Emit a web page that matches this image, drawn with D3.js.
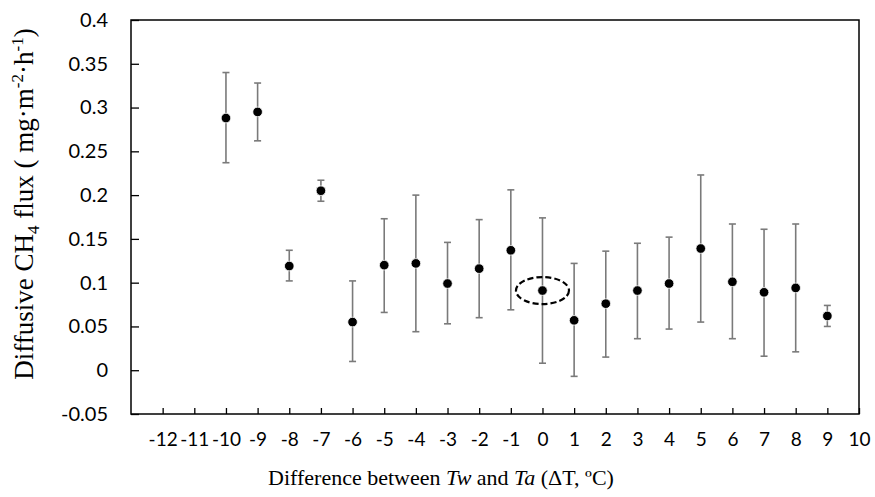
<!DOCTYPE html>
<html>
<head>
<meta charset="utf-8">
<script src="https://cdn.jsdelivr.net/npm/d3@7"></script>
<style>
  body { margin: 0; background: #fff; }
  svg { display: block; }
</style>
</head>
<body>
<svg width="875" height="497"></svg>
<script>
// data
var deltaT = [-10, -9, -8, -7, -6, -5, -4, -3, -2, -1, 0, 1, 2, 3, 4, 5, 6, 7, 8, 9]
var fluxMean = [0.288, 0.295, 0.119, 0.205, 0.055, 0.120, 0.122, 0.099, 0.116, 0.137, 0.091, 0.057, 0.076, 0.091, 0.099, 0.139, 0.101, 0.089, 0.094, 0.062]
var fluxUpper = [0.340, 0.328, 0.137, 0.217, 0.102, 0.173, 0.200, 0.146, 0.172, 0.206, 0.174, 0.122, 0.136, 0.145, 0.152, 0.223, 0.167, 0.161, 0.167, 0.074]
var fluxLower = [0.237, 0.262, 0.102, 0.193, 0.010, 0.066, 0.044, 0.053, 0.060, 0.069, 0.008, -0.007, 0.015, 0.036, 0.047, 0.055, 0.036, 0.016, 0.021, 0.050]
var xTicks = d3.range(-12, 11)
var yTicks = [-0.05, 0, 0.05, 0.1, 0.15, 0.2, 0.25, 0.3, 0.35, 0.4]
var highlight = {x: 0, y: 0.091}

function main() {
  var svg = d3.select("svg")
  var margin = {top: 20, right: 16, bottom: 83, left: 131}
  var width = +svg.attr("width") - margin.left - margin.right
  var height = +svg.attr("height") - margin.top - margin.bottom

  var g = svg.append("g").attr("transform", "translate(" + margin.left + "," + margin.top + ")")

  var xScale = d3.scaleLinear().domain([-13, 10]).range([0, width])
  var yScale = d3.scaleLinear().domain([-0.05, 0.4]).range([height, 0])

  var tickFont = "Lato, 'Open Sans', sans-serif"
  // plain hyphen for negatives, like the original
  var fmt = d => String(+d.toFixed(2))

  // y axis, ticks inside
  var yAxis = d3.axisLeft(yScale).tickValues(yTicks).tickSize(-8).tickPadding(23).tickFormat(fmt)
  var gy = g.append("g").call(yAxis)
  gy.select(".domain").remove()
  gy.selectAll("line").attr("stroke", "#000").attr("stroke-width", 1.3)
  gy.selectAll("text").attr("font-family", tickFont).attr("font-size", 20).attr("fill", "#000")

  // x axis, ticks inside
  var xAxis = d3.axisBottom(xScale).tickValues(xTicks).tickSize(-6).tickPadding(19).tickFormat(fmt)
  var gx = g.append("g").attr("transform", "translate(0," + height + ")").call(xAxis)
  gx.select(".domain").remove()
  gx.selectAll("line").attr("stroke", "#000").attr("stroke-width", 1.3)
  gx.selectAll("text").attr("font-family", tickFont).attr("font-size", 19).attr("fill", "#000")

  // frame
  g.append("rect").attr("x", 0).attr("y", 0).attr("width", width).attr("height", height)
    .attr("fill", "none").attr("stroke", "#000").attr("stroke-width", 1.5)

  // error bars
  var bars = g.selectAll(".err").data(deltaT).enter().append("g").attr("class", "err")
    .attr("stroke", "#7a7a7a").attr("stroke-width", 1.6)
  bars.append("line")
    .attr("x1", d => xScale(d)).attr("x2", d => xScale(d))
    .attr("y1", (d, i) => yScale(fluxUpper[i])).attr("y2", (d, i) => yScale(fluxLower[i]))
  bars.append("line")
    .attr("x1", d => xScale(d) - 3.5).attr("x2", d => xScale(d) + 3.5)
    .attr("y1", (d, i) => yScale(fluxUpper[i])).attr("y2", (d, i) => yScale(fluxUpper[i]))
  bars.append("line")
    .attr("x1", d => xScale(d) - 3.5).attr("x2", d => xScale(d) + 3.5)
    .attr("y1", (d, i) => yScale(fluxLower[i])).attr("y2", (d, i) => yScale(fluxLower[i]))

  // points
  g.selectAll(".pt").data(deltaT).enter().append("circle").attr("class", "pt")
    .attr("cx", d => xScale(d)).attr("cy", (d, i) => yScale(fluxMean[i]))
    .attr("r", 4.8).attr("fill", "#000").attr("stroke", "#fff").attr("stroke-width", 0.8)

  // dashed ellipse around the 0 point
  g.append("ellipse")
    .attr("cx", xScale(highlight.x)).attr("cy", yScale(highlight.y))
    .attr("rx", 26.5).attr("ry", 13.5)
    .attr("fill", "none").attr("stroke", "#000").attr("stroke-width", 2.2)
    .attr("stroke-dasharray", "6,3")

  var serif = "'Liberation Serif', 'Times New Roman', serif"

  // x title
  var xt = svg.append("text").attr("x", 441).attr("y", 485).attr("text-anchor", "middle")
    .attr("font-family", serif).attr("font-size", 22).attr("fill", "#000")
  xt.append("tspan").text("Difference between ")
  xt.append("tspan").attr("font-style", "italic").text("Tw")
  xt.append("tspan").text(" and ")
  xt.append("tspan").attr("font-style", "italic").text("Ta")
  xt.append("tspan").text(" (\u0394T, \u00baC)")

  // y title
  var yt = svg.append("text").attr("transform", "translate(33,204) rotate(-90)")
    .attr("text-anchor", "middle").attr("font-family", serif).attr("font-size", 27).attr("fill", "#000")
  yt.append("tspan").text("Diffusive CH")
  yt.append("tspan").attr("font-size", 17).attr("dy", 6).text("4")
  yt.append("tspan").attr("dy", -6).text(" flux ( mg\u00b7m")
  yt.append("tspan").attr("font-size", 17).attr("dy", -10).text("-2")
  yt.append("tspan").attr("dy", 10).text("\u00b7h")
  yt.append("tspan").attr("font-size", 17).attr("dy", -10).text("-1")
  yt.append("tspan").attr("dy", 10).text(")")
}

window.onload = function() {
  main()
}
</script>
</body>
</html>
